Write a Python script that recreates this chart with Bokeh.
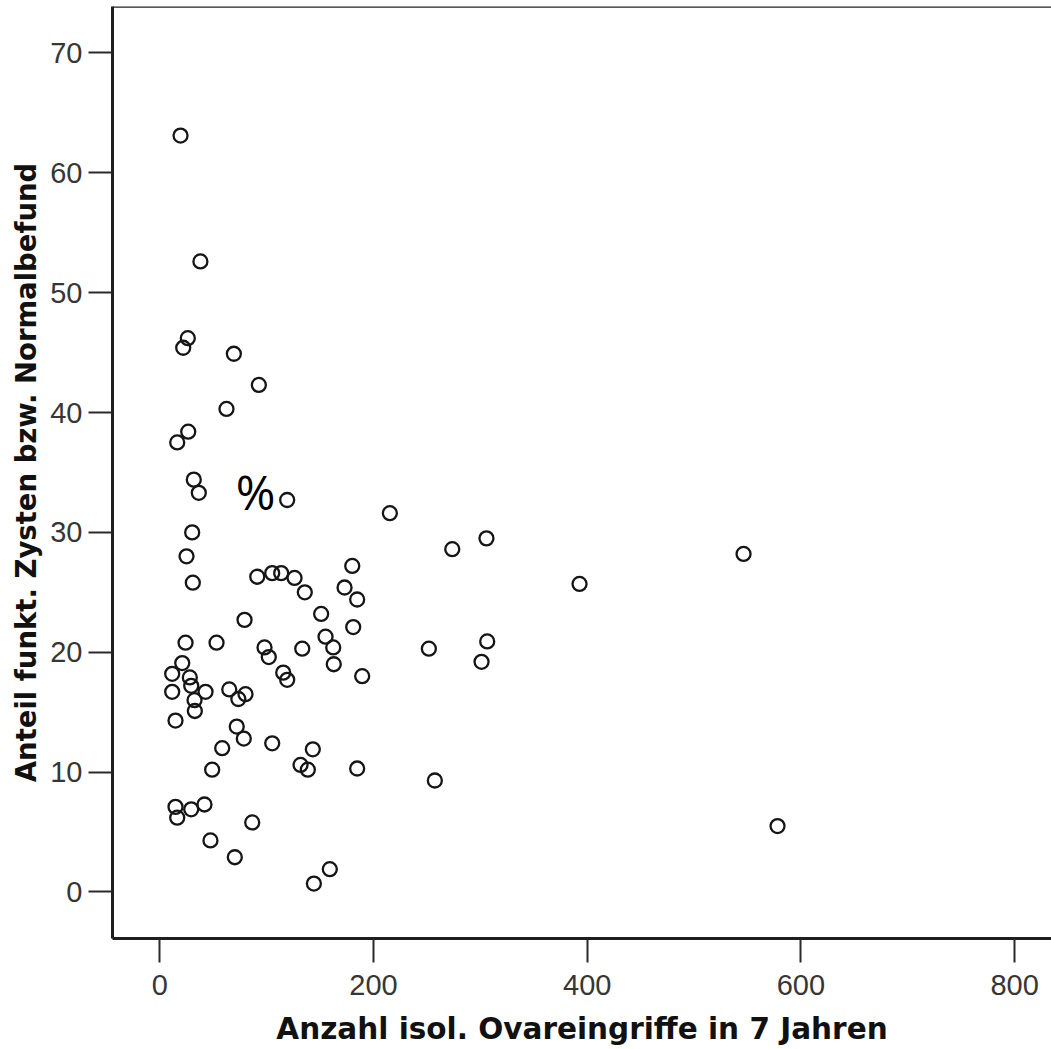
from bokeh.plotting import figure
from bokeh.models import FixedTicker, Label, Range1d, ColumnDataSource, Span
from bokeh.embed import file_html
from bokeh.resources import INLINE

# Data: number of isolated ovarian interventions in 7 years vs. share (%) of functional cysts / normal findings
anzahl = [19.4, 38.0, 26.2, 21.9, 69.3, 92.7, 62.4, 26.6, 16.3, 31.8,
          36.5, 119.2, 215.3, 30.3, 25.0, 30.9, 91.2, 105.2, 113.6, 126.1,
          135.7, 180.1, 172.9, 184.7, 151.0, 79.3, 181.0, 24.1, 53.1, 155.1,
          162.3, 133.3, 98.0, 102.0, 162.8, 189.4, 115.5, 119.2, 21.0, 11.6,
          28.1, 29.4, 11.6, 42.8, 32.5, 32.8, 14.7, 65.0, 73.5, 80.2,
          72.0, 78.6, 58.4, 105.2, 49.0, 14.7, 16.3, 29.4, 41.8, 86.5,
          47.4, 70.2, 143.2, 131.7, 138.5, 184.7, 159.1, 144.2, 273.7, 305.7,
          392.8, 251.8, 306.4, 301.1, 257.4, 546.3, 578.1]
anteil = [63.1, 52.6, 46.2, 45.4, 44.9, 42.3, 40.3, 38.4, 37.5, 34.4,
          33.3, 32.7, 31.6, 30.0, 28.0, 25.8, 26.3, 26.6, 26.6, 26.2,
          25.0, 27.2, 25.4, 24.4, 23.2, 22.7, 22.1, 20.8, 20.8, 21.3,
          20.4, 20.3, 20.4, 19.6, 19.0, 18.0, 18.3, 17.7, 19.1, 18.2,
          17.9, 17.2, 16.7, 16.7, 16.0, 15.1, 14.3, 16.9, 16.1, 16.5,
          13.8, 12.8, 12.0, 12.4, 10.2, 7.1, 6.2, 6.9, 7.3, 5.8,
          4.3, 2.9, 11.9, 10.6, 10.2, 10.3, 1.9, 0.7, 28.6, 29.5,
          25.7, 20.3, 20.9, 19.2, 9.3, 28.2, 5.5]

x_ticks = [0, 200, 400, 600, 800]
y_ticks = [0, 10, 20, 30, 40, 50, 60, 70]
x_title = "Anzahl isol. Ovareingriffe in 7 Jahren"
y_title = "Anteil funkt. Zysten bzw. Normalbefund"
note_text = "%"
note_x, note_y = 89.6, 33.4

x_lo, x_hi = -44.27, 834.5
y_lo, y_hi = -3.88, 73.87

src = ColumnDataSource(dict(x=anzahl, y=anteil))

p = figure(width=1051, height=1049,
           x_range=Range1d(x_lo, x_hi), y_range=Range1d(y_lo, y_hi),
           output_backend="svg", toolbar_location=None,
           min_border_left=112, min_border_right=0, min_border_top=6,
           min_border_bottom=111)
p.outline_line_color = None
p.grid.visible = False
p.background_fill_color = "white"
p.border_fill_color = "white"

tick_font = "Liberation Sans Narrow, Liberation Sans, Arial, sans-serif"
title_font = "DejaVu Sans"

for ax, ticks in ((p.xaxis[0], x_ticks), (p.yaxis[0], y_ticks)):
    ax.ticker = FixedTicker(ticks=ticks)
    ax.minor_tick_line_color = None
    ax.major_tick_in = 0
    ax.major_tick_out = 24
    ax.major_tick_line_width = 2
    ax.major_tick_line_color = "#2a2a2a"
    ax.axis_line_width = 3
    ax.axis_line_color = "#1e1e1e"
    ax.major_label_text_font = tick_font
    ax.major_label_text_font_size = "29px"
    ax.major_label_text_color = "#363636"
    ax.axis_label_text_font = title_font
    ax.axis_label_text_font_style = "bold"
    ax.axis_label_text_color = "#111111"

p.xaxis[0].axis_label = x_title
p.xaxis[0].axis_label_text_font_size = "29.5px"
p.xaxis[0].major_label_standoff = 12
p.xaxis[0].axis_label_standoff = 14
p.yaxis[0].axis_label = y_title
p.yaxis[0].axis_label_text_font_size = "27.5px"
p.yaxis[0].major_label_standoff = 6
p.yaxis[0].axis_label_standoff = 5

# top frame border (the right border lies outside the picture)
p.add_layout(Span(location=y_hi, dimension="width", line_color="#222222", line_width=2.5))

p.scatter("x", "y", source=src, marker="circle", size=14, fill_color=None,
          line_color="#151515", line_width=2.3)

p.add_layout(Label(x=note_x, y=note_y, text=note_text, text_align="center",
                   text_baseline="middle", text_font="Open Sans",
                   text_font_size="48px", text_color="black"))

open("out.html", "w").write(file_html(p, INLINE))
